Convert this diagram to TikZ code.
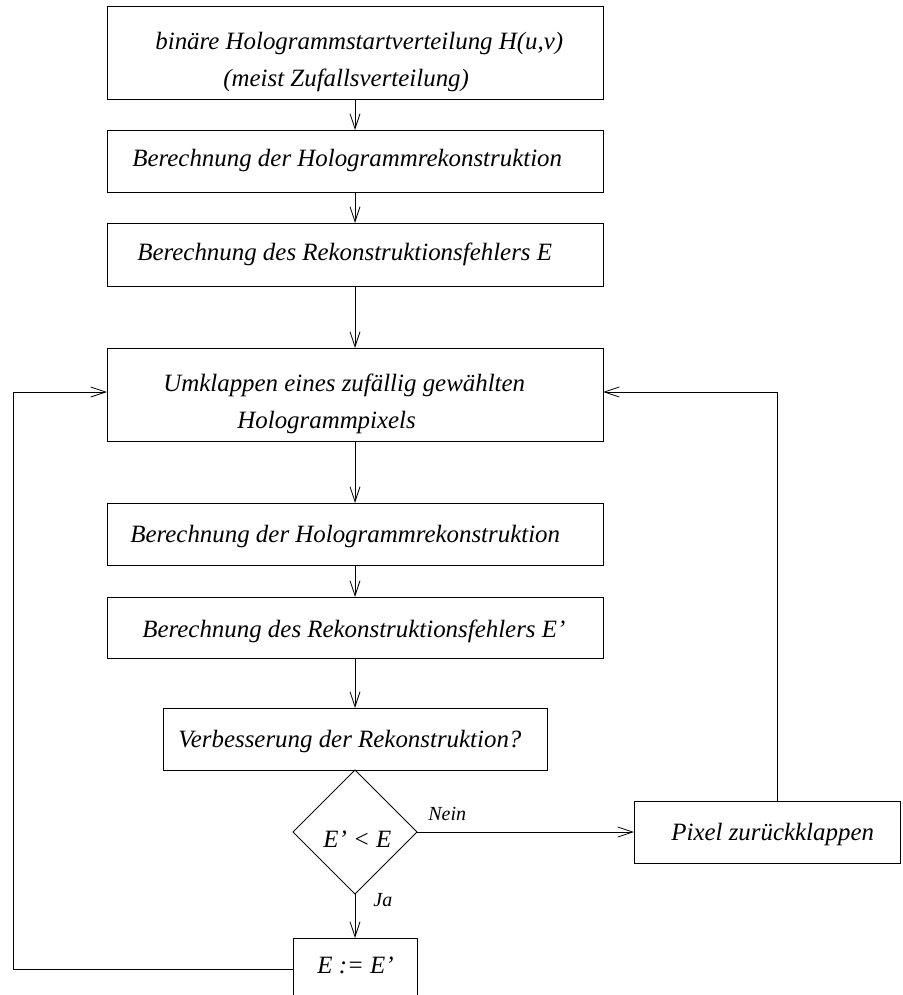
\documentclass[tikz,border=0pt]{standalone}
\usepackage{fontspec}
\setmainfont{Liberation Serif}
\usetikzlibrary{arrows.meta,shapes.geometric}
\begin{document}
\begin{tikzpicture}[x=1pt,y=-1pt,
  line width=0.8pt,
  font=\fontsize{24.9}{30}\selectfont\itshape,
  box/.style={draw, rectangle, inner sep=0pt, outer sep=0pt},
  decision/.style={draw, diamond, aspect=1, inner sep=0pt, outer sep=0pt,
    minimum width=124pt, minimum height=124pt},
  txt/.style={anchor=base west, inner sep=0pt},
  small/.style={txt, font=\fontsize{20}{24}\selectfont\itshape},
  arr/.style={-{Straight Barb[length=15pt,width=10pt,line width=0.8pt]}}]
\useasboundingbox (0,0) rectangle (902,995);

% boxes
\node[box, minimum width=496pt, minimum height=93pt] (b1) at (355,52.5) {};
\node[box, minimum width=496pt, minimum height=62pt] (b2) at (355,161) {};
\node[box, minimum width=496pt, minimum height=63pt] (b3) at (355,254.5) {};
\node[box, minimum width=496pt, minimum height=93pt] (b4) at (355,394.5) {};
\node[box, minimum width=496pt, minimum height=62pt] (b5) at (355,534) {};
\node[box, minimum width=496pt, minimum height=61pt] (b6) at (355,627.5) {};
\node[box, minimum width=384pt, minimum height=62pt] (b7) at (355,739) {};
\node[decision] (dec) at (355,832) {};
\node[box, minimum width=124pt, minimum height=62pt] (b8) at (355,969) {};
\node[box, minimum width=266pt, minimum height=62pt] (pix) at (767,832) {};

% texts
\node[txt] (t1a) at (155,50) {binäre Hologrammstartverteilung H(u,v)};
\node[txt] (t1b) at (223,87) {(meist Zufallsverteilung)};
\node[txt] (t2) at (132,167) {Berechnung der Hologrammrekonstruktion};
\node[txt] (t3) at (137,260) {Berechnung des Rekonstruktionsfehlers E};
\node[txt] (t4a) at (163,391) {Umklappen eines zufällig gewählten};
\node[txt] (t4b) at (237,428) {Hologrammpixels};
\node[txt] (t5) at (130,542) {Berechnung der Hologrammrekonstruktion};
\node[txt] (t6) at (142,637) {Berechnung des Rekonstruktionsfehlers E'};
\node[txt] (t7) at (178,747) {Verbesserung der Rekonstruktion?};
\node[txt] (t8) at (323,847) {E' < E};
\node[txt] (t9) at (317,973) {E := E'};
\node[txt] (t10) at (671,840) {Pixel zurückklappen};
\node[small] (nein) at (428,820) {Nein};
\node[small] (ja) at (373,906) {Ja};

% main flow
\draw[arr] (b1) -- (b2);
\draw[arr] (b2) -- (b3);
\draw[arr] (b3) -- (b4);
\draw[arr] (b4) -- (b5);
\draw[arr] (b5) -- (b6);
\draw[arr] (b6) -- (b7);
\draw[arr] (dec.south) -- (b8.north);
\draw[arr] (dec.east) -- (pix.west);

% loops back to the pixel flip
\coordinate (upR) at (777,392);
\coordinate (upL) at (13,392);
\draw[arr] (upR |- pix.north) -- (upR) -- (upR -| b4.east);
\draw[arr] (b8.west) -| (upL) -- (upL -| b4.west);
\end{tikzpicture}
\end{document}
